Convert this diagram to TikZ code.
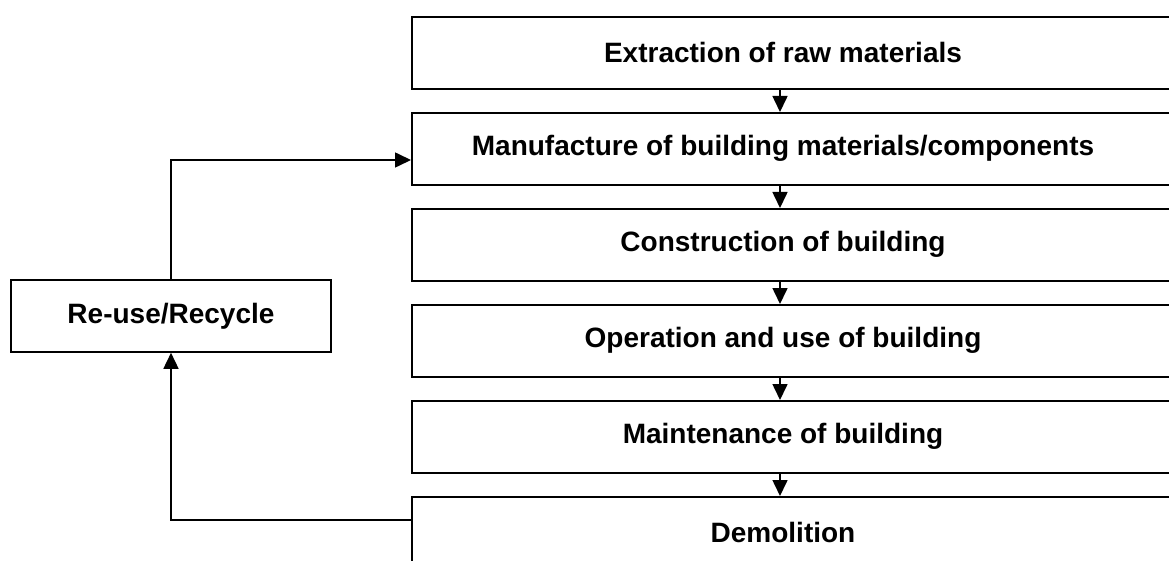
\documentclass[tikz,border=0pt]{standalone}
\usepackage{fontspec}
\setmainfont{Liberation Sans}
\usetikzlibrary{arrows.meta}
\begin{document}
\begin{tikzpicture}[x=1pt,y=-1pt,
  box/.style={draw=black,line width=1.6pt,minimum width=800pt,minimum height=72pt,inner sep=0pt,anchor=north west},
  rbox/.style={draw=black,line width=1.6pt,minimum width=320pt,minimum height=72pt,inner sep=0pt,
    font=\fontsize{28}{33}\selectfont\bfseries},
  lbl/.style={inner sep=0pt,font=\fontsize{28}{33}\selectfont\bfseries},
  arr/.style={line width=1.6pt,-{Triangle[width=15pt,length=16pt]}}]
\useasboundingbox (0,0) rectangle (1169,561);
\clip (0,0) rectangle (1169,561);
\fill[white] (0,0) rectangle (1169,561);
\node[box] (b1) at (411,16) {};
\node[box] (b2) at (411,112) {};
\node[box] (b3) at (411,208) {};
\node[box] (b4) at (411,304) {};
\node[box] (b5) at (411,400) {};
\node[box] (b6) at (411,496) {};
\node[lbl] (t1) at (783,52) {Extraction of raw materials};
\node[lbl] (t2) at (783,148) {Manufacture of building materials/components};
\node[lbl] (t3) at (783,244) {Construction of building};
\node[lbl] (t4) at (783,340) {Operation and use of building};
\node[lbl] (t5) at (783,436) {Maintenance of building};
\node[lbl] (t6) at (783,532) {Demolition};
\node[rbox] (rec) at (171,316) {Re-use/Recycle};
\coordinate (ax) at (780,0);
\coordinate (fy) at (0,160);
\coordinate (by) at (0,520);
\draw[arr] (b1.south -| ax) -- (b2.north -| ax);
\draw[arr] (b2.south -| ax) -- (b3.north -| ax);
\draw[arr] (b3.south -| ax) -- (b4.north -| ax);
\draw[arr] (b4.south -| ax) -- (b5.north -| ax);
\draw[arr] (b5.south -| ax) -- (b6.north -| ax);
\draw[arr] (rec.north) |- (b2.west |- fy);
\draw[arr] (b6.west |- by) -| (rec.south);
\end{tikzpicture}
\end{document}
